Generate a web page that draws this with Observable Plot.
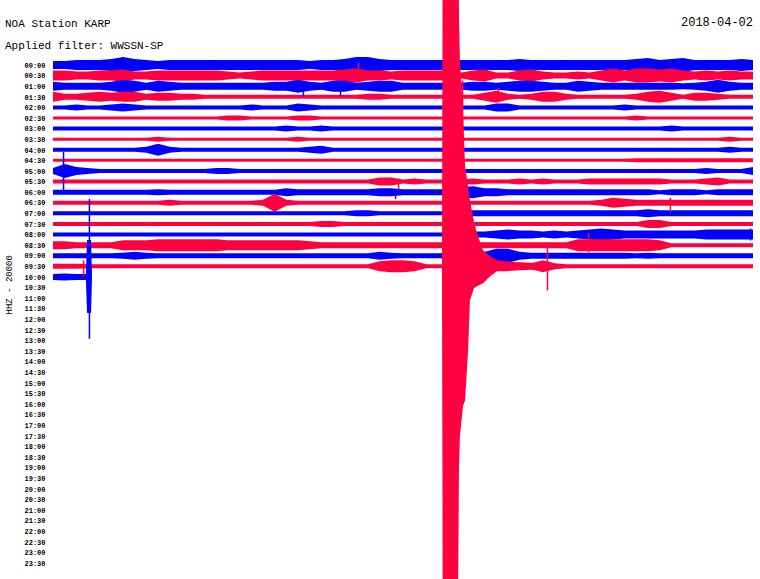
<!DOCTYPE html>
<html><head><meta charset="utf-8">
<script src="https://cdn.jsdelivr.net/npm/d3@7"></script>
<script src="https://cdn.jsdelivr.net/npm/@observablehq/plot@0.6"></script>
<style>
body{margin:0;background:#fff;overflow:hidden}
#wrap{position:relative;width:760px;height:579px}
.t{position:absolute;font-family:"Liberation Mono",monospace;font-size:11px;line-height:11px;color:#000;white-space:pre}
</style></head><body>
<div id="wrap">
<div id="chart"></div>
<div class="t" style="left:5px;top:19px">NOA Station KARP</div>
<div class="t" style="left:5px;top:41px">Applied filter: WWSSN-SP</div>
<div class="t" style="right:7px;top:18px;font-size:12px">2018-04-02</div>
</div>
<script>
// Half-hour line labels
const timeLabels = ["00:00","00:30","01:00","01:30","02:00","02:30","03:00","03:30","04:00","04:30","05:00","05:30","06:00","06:30","07:00","07:30","08:00","08:30","09:00","09:30","10:00","10:30","11:00","11:30","12:00","12:30","13:00","13:30","14:00","14:30","15:00","15:30","16:00","16:30","17:00","17:30","18:00","18:30","19:00","19:30","20:00","20:30","21:00","21:30","22:00","22:30","23:00","23:30"];

// Sample times within each 30-minute line (minutes)
const sampleMinutes = [0,0.5,1,1.5,2,2.5,3,3.5,4,4.5,5,5.5,6,6.5,7,7.5,8,8.5,9,9.5,10,10.5,11,11.5,12,12.5,13,13.5,14,14.5,15,15.5,16,16.5,17,17.5,18,18.5,19,19.5,20,20.5,21,21.5,22,22.5,23,23.5,24,24.5,25,25.5,26,26.5,27,27.5,28,28.5,29,29.5,30];

// Trace envelopes (half amplitude, trace units) per line
const t0000 = [4,4,5,5,5,6,8,6,5,4, 5,5,5,5,5,5,5,5,5,5, 5,5,4,5,5,6,8,8,6,5, 5,5,5,5,5,5,5,5,5,5, 6,5,5,5,5,5,5,5,5,5, 6,7,5,6,7,5,5,5,5,6, 5];
const t0030 = [5,5,4,4,5,5,6,4,4,5, 5,5,5,5,5,4,3,4,5,5, 5,5,5,5,5,6,7,5,5,4, 5,5,5,5,5,3,5,6,3,3, 5,6,4,3,3,4,3,5,7,5, 7,7,6,7,5,4,5,4,5,4, 4];
const t0100 = [4.5,3.5,3.5,3.5,3.5,4.5,6.5,5.5,3.5,5.5, 4.5,3.5,3.5,3.5,3.5,3.5,3.5,3.5,3.5,4.5, 4.5,6.5,4.5,3.5,5.5,5.5,3.5,4.5,5.5,5.5, 3.5,3.5,3.5,3.5,3.5,3.5,4.5,4.5,3.5,4.5, 5.5,5.5,4.5,3.5,3.5,5.5,4.5,3.5,3.5,3.5, 3.5,3.5,3.5,3.5,3,3.5,4.5,6.5,4.5,3.5, 3.5];
const t0130 = [5,3,3,4,5,4,5,5,3,4, 4,3,3,2,2,2,2,2,2,2, 2,2,2,2,2,2,2,3,3,2, 2,2,2,2,2,2,2,4,6,3, 2,3,5,5,3,2,2,2,2,2, 3,5,6,4,2,4,4,3,2,2, 2];
const t0200 = [2,2,3,2,2,3,4,3,2,2, 2,2,2,2,2,2,2,3,2,2, 2,4,3,2,2,2,2,2,2,2, 2,2,2,2,2,2,2,2,4,4, 2,2,2,2,2,2,2,2,2,3, 2,2,2,2,2,2,2,2,2,2, 2];
const t0230 = [1.5,1.5,1.5,1.5,1.5,1.5,1.5,1.5,1.5,1.5, 1.5,1.5,1.5,1.5,1.5,2.5,2.5,1.5,1.5,1.5, 1.5,2.5,2.5,1.5,1.5,1.5,1.5,1.5,1.5,1.5, 1.5,1.5,1.5,1.5,1.5,1.5,1.5,1.5,1.5,1.5, 1.5,1.5,1.5,1.5,1.5,1.5,1.5,1.5,1.5,1.5, 2.5,1.5,1.5,1.5,1.5,1.5,1.5,1.5,1.5,1.5, 1.5];
const t0300 = [2,2,2,2,2,2,2,2,2,2, 2,2,2,2,2,2,2,2,2,2, 3,2,2,3,2,2,2,2,2,2, 2,2,2,2,2,2,2,2,2,2, 2,2,2,2,2,2,2,2,2,2, 2,2,2,3,2,2,2,2,2,2, 2];
const t0330 = [1.5,1.5,1.5,1.5,1.5,1.5,1.5,1.5,1.5,2.5, 1.5,1.5,1.5,1.5,1.5,1.5,1.5,1.5,1.5,1.5, 1.5,2.5,1.5,1.5,1.5,1.5,1.5,1.5,1.5,1.5, 1.5,1.5,1.5,1.5,1.5,1.5,1.5,1.5,1.5,1.5, 1.5,1.5,1.5,1.5,1.5,1.5,1.5,1.5,1.5,1.5, 1.5,1.5,1.5,1.5,1.5,1.5,1.5,1.5,2.5,1.5, 1.5];
const t0400 = [2,2,2,2,2,2,2,2,3,6, 3,2,2,2,2,2,2,2,2,2, 2,2,3,4,2,2,2,2,2,2, 2,2,2,2,2,2,2,2,2,2, 2,2,2,2,2,2,2,2,2,2, 2,2,2,2,2,2,2,2,3,2, 2];
const t0430 = [1.5,1.5,1.5,1.5,1.5,1.5,1.5,1.5,1.5,1.5, 1.5,1.5,1.5,1.5,1.5,1.5,1.5,1.5,1.5,1.5, 1.5,1.5,1.5,1.5,1.5,1.5,1.5,1.5,1.5,1.5, 1.5,1.5,1.5,1.5,1.5,1.5,1.5,1.5,1.5,1.5, 1.5,1.5,1.5,1.5,1.5,1.5,1.5,1.5,1.5,1.5, 2,2,2,2,2,2,2,2,2,2, 2];
const t0500 = [3,7,4,3,2,2,2,2,2,2, 2,2,2,2,3,3,2,2,2,2, 2,2,2,2,2,2,2,2,2,2, 2,2,2,2,2,2,2,2,2,2, 2,2,2,2,2,2,2,2,2,2, 2,2,2,2,2,2,3,2,2,2, 4];
const t0530 = [2,2,2,2,2,2,2,2,2,2, 2,2,2,2,2,2,2,2,2,2, 2,2,2,2,2,2,2,2,4,4, 2,3,2,2,2,2,3,2,2,2, 3,2,3,2,2,2,3,3,3,3, 3,3,3,2,2,2,3,4,2,2, 2];
const t0600 = [2.5,2.5,2.5,2.5,2.5,2.5,2.5,2.5,2.5,3, 2.5,2.5,2.5,2.5,2.5,2.5,2.5,2.5,2.5,2.5, 4,3,3,3,3,3,3,3,4,4, 3,3,3,3,3,5,6,4,4,3, 3,3,3,3,3,3,3,3,3,3, 3,3,2,3,3,3,2,3,3,3, 3];
const t0630 = [2,2,2,2,2,2,2,2,2,2, 3,2,2,2,2,2,2,2,3,9, 3,2,2,2,2,2,2,2,2,2, 2,2,2,2,2,2,2,2,2,2, 2,2,2,2,2,2,2,3,5,4, 3,3,3,3,3,3,3,3,3,3, 3];
const t0700 = [2,2,2,2,2,2,2,2,2,2, 2,2,2,2,2,2,2,2,2,2, 2,2,2,2,2,2,3,3,2,2, 2,2,2,2,2,3,3,3,3,3, 3,3,3,3,3,3,3,3,3,3, 3,4,3,3,3,3,3,3,3,3, 3];
const t0730 = [2,2,2,2,2,2,2,2,2,2, 2,2,2,2,2,2,2,2,2,2, 2,2,2,3,3,2,2,2,2,2, 2,2,2,2,2,2,2,2,2,2, 2,2,2,2,2,2,2,2,2,2, 2,4,4,2,2,2,2,2,2,2, 2];
const t0800 = [2,2,2,2,2,2,2,2,2,2, 2,2,2,2,2,2,2,2,2,2, 2,2,2,2,2,2,2,2,2,2, 2,2,2,2,2,3,3,3,4,5, 4,4,3,4,3,4,5,6,5,4, 4,4,4,4,4,4,5,5,5,5, 5];
const t0830 = [4,4,3,3,3,3,5,5,5,6, 6,6,6,6,6,5,5,5,5,5, 5,5,4,3,3,3,3,3,3,3, 3,3,3,3,3,3,3,3,3,3, 3,3,3,3,3,6,6,6,6,6, 6,6,5,2,2,2,2,2,2,2, 2];
const t0900 = [2.5,2.5,2.5,2.5,2.5,2.5,3,4,3,2.5, 2.5,2.5,2.5,2.5,2.5,2.5,2.5,2.5,2.5,2.5, 2.5,2.5,2.5,2.5,2.5,2.5,2.5,2.5,4,3, 2.5,2.5,2.5,2.5,3,3,3,4,7,7, 4,3,3,3,3,3,3,3,3,3, 2.5,3,2.5,2.5,2.5,2.5,2.5,2.5,2.5,2.5, 2.5];
const t0930 = [2.5,2.5,2.5,2,2,2,2,2,2,2, 2,2,2,2,2,2,2,2,2,2, 2,2,2,2,2,2,2,2,5,6, 6,5,2,2,2,2,2,2,2,2, 3,3,6,3,2,2,2,2,2,2, 2,2,2,2,2,2,2,2,2,2, 2];

// 10:00 line (incomplete)
const t1000Minutes = [0,0.5,1,1.41,1.46,1.63,1.67];
const t1000Up      = [3,3.5,3,3,37,37,3];
const t1000Down    = [3,3.5,3,3,36,36,3];

// Large earthquake on the 09:30 line
const quakeMinutes = [16.67,16.71,17.31,17.36,17.40,17.44,17.57,17.66,17.79,17.87,18.04,18.17,18.43,18.73,19.03,19.37,20.01,20.87];
const quakeUp      = [2,420,420,420,250,206,156,100,80,66,45,33,16,10,6,5,4,3];
const quakeDown    = [2,420,420,330,200,170,140,134,84,34,22,20,17,10,5,5,4,3];

// Isolated spikes
const spikeRows    = [10,20,19,19,19,12,11,17,13,16,1,2,2,3];
const spikeMinutes = [0.43,1.54,1.29,17.53,21.17,14.66,14.79,22.93,26.44,29.87,13.07,10.71,12.30,19.07];
const spikeUp      = [19,78,6,186,19,3,3,12,5,6,13,2,2,9];
const spikeDown    = [19,62,10,10,24,7,8,7,9,6,6,10,10,5];

const BLUE = "#0000ff", RED = "#ff0040";
const lineSpacing = 10.6;
const traces = [t0000,t0030,t0100,t0130,t0200,t0230,t0300,t0330,t0400,t0430,t0500,t0530,t0600,t0630,t0700,t0730,t0800,t0830,t0900,t0930];

const env = [];
traces.forEach((amps, r) => amps.forEach((a, k) => env.push({s: "r" + r, row: r, minute: sampleMinutes[k], up: a, down: a})));
t1000Minutes.forEach((m, k) => env.push({s: "r20", row: 20, minute: m, up: t1000Up[k], down: t1000Down[k]}));
quakeMinutes.forEach((m, k) => env.push({s: "quake", row: 19, minute: m, up: quakeUp[k], down: quakeDown[k]}));
const spikes = spikeRows.map((r, i) => ({row: r, minute: spikeMinutes[i], up: spikeUp[i], down: spikeDown[i]}));

const colorOf = r => r % 2 ? RED : BLUE;

const chart = Plot.plot({
  width: 760, height: 579,
  marginTop: 65, marginBottom: 16, marginLeft: 53, marginRight: 7,
  x: {domain: [0, 30], axis: null},
  y: {domain: [0, 47 * lineSpacing], reverse: true, axis: null},
  color: {type: "identity"},
  style: {background: "white", overflow: "hidden"},
  marks: [
    Plot.areaY(env, {x: "minute", y1: d => d.row * lineSpacing - d.up, y2: d => d.row * lineSpacing + d.down, z: "s", fill: d => colorOf(d.row), curve: "linear"}),
    Plot.ruleX(spikes, {x: "minute", y1: d => d.row * lineSpacing - d.up, y2: d => d.row * lineSpacing + d.down, stroke: d => colorOf(d.row), strokeWidth: 1.5}),
    Plot.axisY({ticks: timeLabels.map((d, i) => i * lineSpacing), tickFormat: d => timeLabels[Math.round(d / lineSpacing)], tickSize: 0, tickPadding: 8, fontFamily: "Liberation Mono", fontSize: 7, fontWeight: "bold", fill: "#000", label: null}),
    Plot.text(["HHZ - 20000"], {frameAnchor: "left", rotate: -90, dx: -44, fontFamily: "Liberation Mono", fontSize: 9, fill: "#000"})
  ]
});
document.getElementById("chart").appendChild(chart);
</script>
</body></html>
